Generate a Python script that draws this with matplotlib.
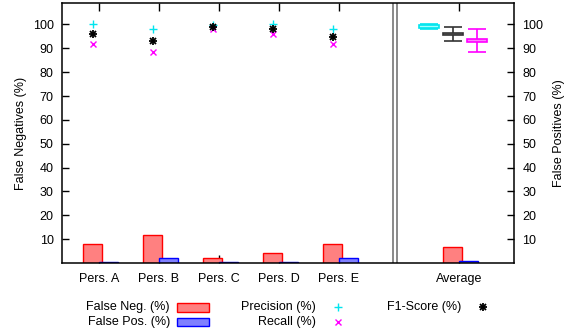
import matplotlib
matplotlib.use("Agg")
import matplotlib.pyplot as plt
from matplotlib.patches import Rectangle
from matplotlib.lines import Line2D
import numpy as np

plt.rcParams['font.family'] = ['Liberation Sans', 'DejaVu Sans']
FS = 9.0

categories = ["Pers. A", "Pers. B", "Pers. C", "Pers. D", "Pers. E"]
avg_label = "Average"
false_neg = [8.0, 11.6, 2.0, 4.0, 8.0]
false_pos = [0.3, 2.0, 0.3, 0.3, 2.0]
precision = [100.0, 97.9, 99.8, 100.0, 98.0]
recall = [91.9, 88.4, 98.2, 95.8, 92.0]
f1_score = [95.8, 92.9, 99.0, 97.9, 94.8]

avg_false_neg = 6.7
avg_false_pos = 1.0
avg_precision = [99.2, 98.0, 100.0]   # mean, min, max
avg_f1 = [96.1, 92.9, 99.0]
avg_recall = [93.3, 88.4, 98.2]

yticks = [10, 20, 30, 40, 50, 60, 70, 80, 90, 100]

RED_E, RED_F = "#ff0000", "#ff8080"
BLUE_E, BLUE_F = "#0000ff", "#8080ff"
CYAN = "#00e5ee"
MAG = "#ff00ff"
BLK = "#000000"

fig = plt.figure(figsize=(5.75, 3.35), dpi=100)
ax = fig.add_axes([62/575, 1-263/335, (514-62)/575, (263-3)/335])

x = np.arange(len(categories))
xa = 6.0
bw = 0.317
ax.bar(x - 0.108, false_neg, width=bw, facecolor=RED_F, edgecolor=RED_E, lw=1.0, zorder=3)
ax.bar(x + 0.158, false_pos, width=bw, facecolor=BLUE_F, edgecolor=BLUE_E, lw=1.0, zorder=3)
ax.bar([xa - 0.108], [avg_false_neg], width=bw, facecolor=RED_F, edgecolor=RED_E, lw=1.0, zorder=3)
ax.bar([xa + 0.158], [avg_false_pos], width=bw, facecolor=BLUE_F, edgecolor=BLUE_E, lw=1.0, zorder=3)

mx = x - 0.1
ax.plot(mx, precision, ls="none", marker="+", ms=6, mew=1.0, color=CYAN, zorder=4)
ax.plot(mx, recall, ls="none", marker="x", ms=4.5, mew=1.0, color=MAG, zorder=4)
ax.plot(mx, f1_score, ls="none", marker="+", ms=5.5, mew=1.3, color=BLK, zorder=5)
ax.plot(mx, f1_score, ls="none", marker="x", ms=4.5, mew=1.3, color=BLK, zorder=5)

for off, vals, col, face in [(-0.5, avg_precision, CYAN, "#a0ffff"),
                             (-0.1, avg_f1, "#333333", "#888888"),
                             (0.3, avg_recall, MAG, "#ff80ff")]:
    m, lo, hi = vals
    ax.errorbar([xa + off], [m], yerr=[[m - lo], [hi - m]], fmt="none",
                ecolor=col, elinewidth=1.2, capsize=6.8, capthick=1.2, zorder=4)
    ax.bar([xa + off], [1.0], bottom=[m - 0.5], width=0.32, facecolor=face,
           edgecolor=col, lw=1.2, zorder=5)

ax.axvline(4.90, color="#808080", lw=1.3, zorder=2)
ax.axvline(4.967, color="#808080", lw=1.3, zorder=2)

ax.set_xlim(-0.617, 6.917)
ax.set_ylim(0, 109)
ax.set_xticks(list(x) + [xa])
ax.set_xticklabels(categories + [avg_label], fontsize=FS)
ax.set_yticks(yticks)
ax.set_yticklabels([str(v) for v in yticks], fontsize=FS)
ax.tick_params(axis="x", direction="in", length=6, width=1, top=True, pad=7)
ax.tick_params(axis="y", direction="in", length=5, width=1, pad=6)
for s in ax.spines.values():
    s.set_linewidth(1.1)
    s.set_zorder(6)
ax.set_ylabel("False Negatives (%)", fontsize=FS, labelpad=4)

ax2 = ax.twinx()
ax2.set_ylim(ax.get_ylim())
ax2.set_yticks(yticks)
ax2.set_yticklabels([str(v) for v in yticks], fontsize=FS)
ax2.tick_params(axis="y", direction="in", length=5, width=1, pad=6)
ax2.set_ylabel("False Positives (%)", fontsize=FS, labelpad=7)
for s in ax2.spines.values():
    s.set_visible(False)

# legend (gnuplot style, below plot)
def fx(px):
    return px / 575
def fy(py):
    return 1 - py / 335

def legend_text(px, py, s):
    fig.text(fx(px), fy(py), s, ha="right", va="center", fontsize=FS)

legend_text(170, 307, "False Neg. (%)")
legend_text(170, 322, "False Pos. (%)")
legend_text(316, 307, "Precision (%)")
legend_text(316, 322, "Recall (%)")
legend_text(461, 307, "F1-Score (%)")

fig.patches.append(Rectangle((fx(177), fy(312)), fx(209) - fx(177), fy(303) - fy(312),
                             transform=fig.transFigure, facecolor=RED_F, edgecolor=RED_E, lw=1.0))
fig.patches.append(Rectangle((fx(177), fy(326)), fx(209) - fx(177), fy(318) - fy(326),
                             transform=fig.transFigure, facecolor=BLUE_F, edgecolor=BLUE_E, lw=1.0))
fig.lines.append(Line2D([fx(338)], [fy(307)], transform=fig.transFigure, ls="none",
                        marker="+", ms=6, mew=1.0, color=CYAN))
fig.lines.append(Line2D([fx(338)], [fy(322)], transform=fig.transFigure, ls="none",
                        marker="x", ms=4.5, mew=1.0, color=MAG))
fig.lines.append(Line2D([fx(483)], [fy(307)], transform=fig.transFigure, ls="none",
                        marker="+", ms=5.5, mew=1.3, color=BLK))
fig.lines.append(Line2D([fx(483)], [fy(307)], transform=fig.transFigure, ls="none",
                        marker="x", ms=4.5, mew=1.3, color=BLK))

fig.savefig("out.png", dpi=100)
